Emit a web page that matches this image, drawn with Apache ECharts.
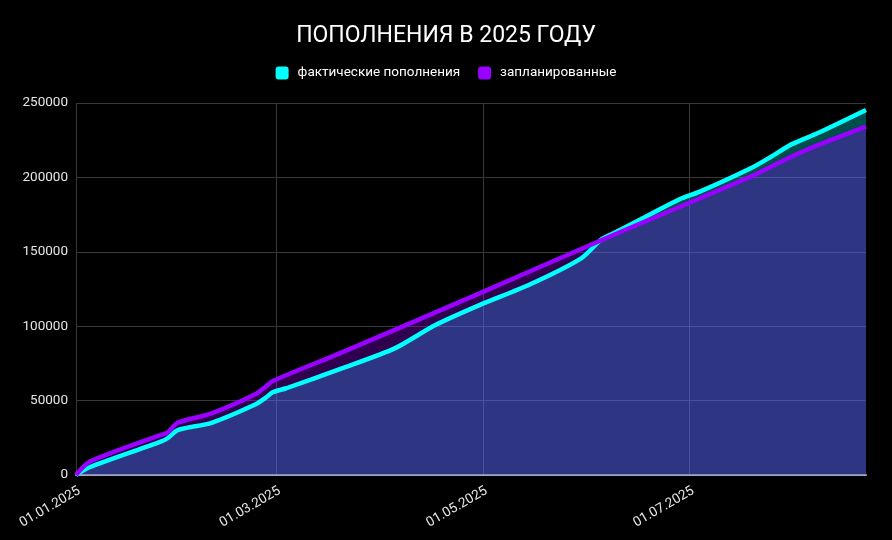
<!DOCTYPE html>
<html>
<head>
<meta charset="utf-8">
<script src="https://cdn.jsdelivr.net/npm/echarts@6/dist/echarts.min.js"></script>
<style>
html,body{margin:0;padding:0;background:#000;}
#chart{width:892px;height:540px;}
</style>
</head>
<body>
<div id="chart"></div>
<script>
// ---- data ----
var titleText = 'ПОПОЛНЕНИЯ В 2025 ГОДУ';
var seriesNames = ['фактические пополнения', 'запланированные'];
var startDate = '01.01.2025';
var endDate = '22.08.2025';
var xTickLabels = ['01.01.2025', '01.03.2025', '01.05.2025', '01.07.2025'];
var yTicks = [0, 50000, 100000, 150000, 200000, 250000];

var factDates = ['01.01.2025','05.01.2025','26.01.2025','28.01.2025','31.01.2025','10.02.2025','23.02.2025','26.02.2025','28.02.2025','04.03.2025','21.03.2025','05.04.2025','17.04.2025','30.04.2025','15.05.2025','30.05.2025','05.06.2025','09.06.2025','19.06.2025','28.06.2025','04.07.2025','19.07.2025','25.07.2025','31.07.2025','08.08.2025','22.08.2025'];
var factValues = [0,5200,22400,24700,30200,35100,47500,52000,55600,58300,72100,85100,100800,114200,128200,145600,158400,162900,174700,185300,190400,206100,213900,222200,230000,245300];

var planDates = ['01.01.2025','05.01.2025','26.01.2025','28.01.2025','31.01.2025','10.02.2025','23.02.2025','26.02.2025','28.02.2025','21.03.2025','30.04.2025','09.06.2025','19.07.2025','25.07.2025','31.07.2025','08.08.2025','22.08.2025'];
var planValues = [0,8900,26900,28500,35100,41400,54400,59500,63200,82900,122100,161800,200500,207200,213900,221800,234100];

// ---- build categories (daily) ----
function parseD(s){var p=s.split('.');return new Date(Date.UTC(+p[2],+p[1]-1,+p[0]));}
function fmt(d){var dd=('0'+d.getUTCDate()).slice(-2),mm=('0'+(d.getUTCMonth()+1)).slice(-2);return dd+'.'+mm+'.'+d.getUTCFullYear();}
var categories=[];
for(var t=parseD(startDate).getTime();t<=parseD(endDate).getTime();t+=86400000){categories.push(fmt(new Date(t)));}
function pairs(ds,vs){return ds.map(function(d,i){return [d,vs[i]];});}
function isTick(i,v){return xTickLabels.indexOf(v)>=0;}

var chart = echarts.init(document.getElementById('chart'));
chart.setOption({
  backgroundColor:'#000',
  animation:false,
  title:{text:titleText,left:'center',top:20,textStyle:{color:'#fff',fontSize:23,fontWeight:'normal',fontFamily:'Roboto'}},
  legend:{top:61,left:'center',icon:'roundRect',itemWidth:13,itemHeight:13,itemGap:18,
    textStyle:{color:'#fff',fontSize:13.5,fontFamily:'Roboto',padding:[0,0,0,4]},data:seriesNames},
  grid:{left:76,right:26,top:103,bottom:65,containLabel:false},
  xAxis:{type:'category',data:categories,boundaryGap:false,
    axisLine:{show:true,lineStyle:{color:'#aaa',width:2}},
    axisTick:{show:false},
    axisLabel:{interval:isTick,rotate:30,verticalAlign:'top',color:'#e6e6e6',fontSize:13.5,fontFamily:'Roboto',margin:9},
    splitLine:{show:true,interval:isTick,lineStyle:{color:'#383838',width:1}}},
  yAxis:{type:'value',min:yTicks[0],max:yTicks[yTicks.length-1],interval:50000,
    axisLine:{show:false},axisTick:{show:false},
    axisLabel:{color:'#e6e6e6',fontSize:13.5,fontFamily:'Roboto',margin:8,formatter:function(v){return String(v);}},
    splitLine:{lineStyle:{color:'#383838',width:1}}},
  series:[
    {name:seriesNames[0],type:'line',data:pairs(factDates,factValues),smooth:0.25,showSymbol:false,symbol:'none',
      itemStyle:{color:'#00ffff'},lineStyle:{color:'#00ffff',width:4.5},areaStyle:{color:'#00ffff',opacity:0.3}},
    {name:seriesNames[1],type:'line',data:pairs(planDates,planValues),smooth:0.25,showSymbol:false,symbol:'none',
      itemStyle:{color:'#9900ff'},lineStyle:{color:'#9900ff',width:4.5},areaStyle:{color:'#9900ff',opacity:0.3}}
  ]
});
</script>
</body>
</html>
